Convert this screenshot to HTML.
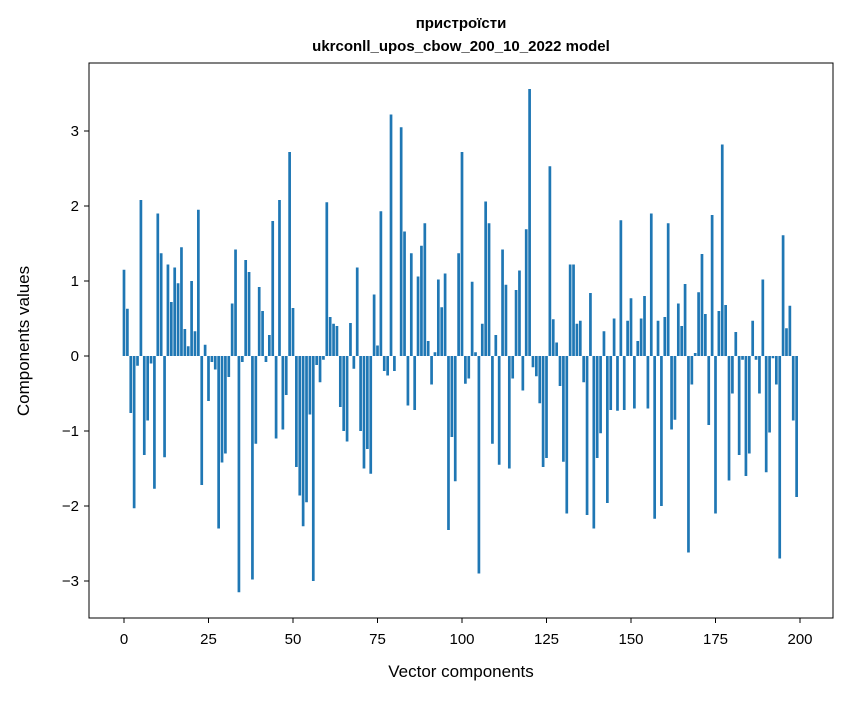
<!DOCTYPE html>
<html><head><meta charset="utf-8"><style>
html,body{margin:0;padding:0;background:#fff}
svg text{font-family:"Liberation Sans","DejaVu Sans",sans-serif;fill:#000}
</style></head><body>
<svg id="chart" width="847" height="696" xmlns="http://www.w3.org/2000/svg">
<text x="461" y="28" text-anchor="middle" font-size="15" font-weight="bold">пристроїсти</text>
<text x="461" y="51" text-anchor="middle" font-size="15" font-weight="bold">ukrconll_upos_cbow_200_10_2022 model</text>
<g id="bars"></g>
<rect x="89" y="63" width="744" height="555" fill="none" stroke="#000" stroke-width="1"/>
<g id="axes"></g>
<text x="461" y="677" text-anchor="middle" font-size="17">Vector components</text>
<text transform="translate(29,341) rotate(-90)" text-anchor="middle" font-size="17">Components values</text>
</svg>
<script>
const values = [1.15,0.63,-0.76,-2.03,-0.13,2.08,-1.32,-0.86,-0.1,-1.77,
1.9,1.37,-1.35,1.22,0.72,1.18,0.97,1.45,0.36,0.13,
1.0,0.33,1.95,-1.72,0.15,-0.6,-0.08,-0.18,-2.3,-1.42,
-1.3,-0.28,0.7,1.42,-3.15,-0.08,1.28,1.12,-2.98,-1.17,
0.92,0.6,-0.08,0.28,1.8,-1.1,2.08,-0.98,-0.52,2.72,
0.64,-1.48,-1.86,-2.27,-1.95,-0.78,-3.0,-0.12,-0.35,-0.05,
2.05,0.52,0.43,0.4,-0.68,-1.0,-1.14,0.44,-0.17,1.18,
-1.0,-1.5,-1.24,-1.57,0.82,0.14,1.93,-0.2,-0.26,3.22,
-0.2,0.0,3.05,1.66,-0.66,1.37,-0.72,1.06,1.47,1.77,
0.2,-0.38,0.05,1.02,0.65,1.1,-2.32,-1.08,-1.67,1.37,
2.72,-0.37,-0.3,0.99,0.05,-2.9,0.43,2.06,1.77,-1.17,
0.28,-1.45,1.42,0.95,-1.5,-0.3,0.88,1.14,-0.46,1.69,
3.56,-0.15,-0.27,-0.63,-1.48,-1.36,2.53,0.49,0.18,-0.4,
-1.41,-2.1,1.22,1.22,0.43,0.47,-0.35,-2.12,0.84,-2.3,
-1.36,-1.03,0.33,-1.96,-0.72,0.5,-0.73,1.81,-0.72,0.47,
0.77,-0.7,0.2,0.5,0.8,-0.7,1.9,-2.17,0.47,-2.0,
0.52,1.77,-0.98,-0.85,0.7,0.4,0.96,-2.62,-0.38,0.04,
0.85,1.36,0.56,-0.92,1.88,-2.1,0.6,2.82,0.68,-1.66,
-0.5,0.32,-1.32,-0.05,-1.6,-1.3,0.47,-0.05,-0.5,1.02,
-1.55,-1.02,-0.03,-0.38,-2.7,1.61,0.37,0.67,-0.86,-1.88];
const xTicks = [0,25,50,75,100,125,150,175,200];
const yTicks = [-3,-2,-1,0,1,2,3];
const NS='http://www.w3.org/2000/svg';
function xs(v){return 124+(v)*(800-124)/200;}
function ys(v){return 356-v*75;}
const bars=document.getElementById('bars');
values.forEach((v,i)=>{
  const r=document.createElementNS(NS,'rect');
  
  
  const w=xs(0.8)-xs(0);
  r.setAttribute('x',xs(i)-w/2);
  r.setAttribute('width',w);
  r.setAttribute('y',Math.min(ys(v),ys(0)));
  r.setAttribute('height',Math.abs(ys(v)-ys(0)));
  r.setAttribute('fill','#1f77b4');
  bars.appendChild(r);
});
const ax=document.getElementById('axes');
xTicks.forEach(t=>{
  const l=document.createElementNS(NS,'line');
  
  
  l.setAttribute('x1',xs(t));l.setAttribute('x2',xs(t));
  l.setAttribute('y1',618);l.setAttribute('y2',623);
  l.setAttribute('stroke','#000');
  ax.appendChild(l);
  const tx=document.createElementNS(NS,'text');
  
  
  tx.setAttribute('x',xs(t));tx.setAttribute('y',644);
  tx.setAttribute('text-anchor','middle');tx.setAttribute('font-size','15');
  tx.textContent=t;ax.appendChild(tx);
});
yTicks.forEach(t=>{
  const l=document.createElementNS(NS,'line');
  
  
  l.setAttribute('x1',84);l.setAttribute('x2',89);
  l.setAttribute('y1',ys(t));l.setAttribute('y2',ys(t));
  l.setAttribute('stroke','#000');
  ax.appendChild(l);
  const tx=document.createElementNS(NS,'text');
  
  
  tx.setAttribute('x',79);tx.setAttribute('y',ys(t)+5);
  tx.setAttribute('text-anchor','end');tx.setAttribute('font-size','15');
  tx.textContent=t<0?'\u2212'+Math.abs(t):String(t);ax.appendChild(tx);
});
</script>
</body></html>
